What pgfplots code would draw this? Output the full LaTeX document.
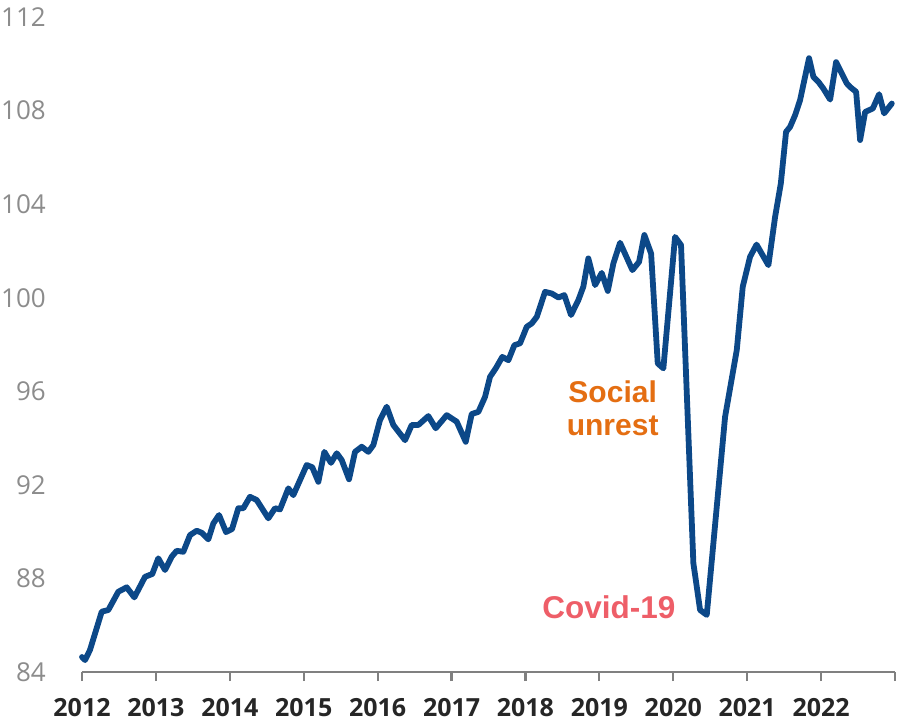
\documentclass[border=0pt]{standalone}
\usepackage{fontspec}
\setmainfont{Open Sans}
\newfontfamily\annfont{Liberation Sans}
\usepackage{pgfplots}
\pgfplotsset{compat=1.18}
\definecolor{lineblue}{RGB}{12,72,136}
\definecolor{ylab}{RGB}{140,140,140}
\definecolor{xlab}{RGB}{38,38,38}
\definecolor{axgray}{RGB}{128,128,128}
\definecolor{unrest}{RGB}{228,110,18}
\definecolor{covid}{RGB}{238,94,104}
\begin{document}
\begin{tikzpicture}
\useasboundingbox (-82pt,-51pt) rectangle (815pt,672pt);
\begin{axis}[
  at={(0pt,0pt)}, anchor=south west,
  scale only axis, width=813pt, height=655pt,
  xmin=2012, xmax=2023, ymin=84, ymax=112,
  clip=false,
  axis x line*=bottom, axis y line*=left,
  y axis line style={draw=none},
  x axis line style={axgray, line width=2.2pt},
  xtick={2012,2013,2014,2015,2016,2017,2018,2019,2020,2021,2022,2023},
  xticklabels={2012,2013,2014,2015,2016,2017,2018,2019,2020,2021,2022,{}},
  ytick={84,88,92,96,100,104,108,112},
  tick align=outside,
  x tick style={axgray, line width=2.2pt},
  y tick style={draw=none},
  major tick length=9pt,
  /pgf/number format/assume math mode=true,
  xticklabel style={font=\fontsize{25}{28}\selectfont\bfseries, text=xlab, anchor=center, inner sep=0pt, yshift=-27pt},
  yticklabel style={font=\fontsize{26}{30}\selectfont, text=ylab, anchor=east, inner sep=0pt, xshift=-27pt},
]
\addplot[lineblue, line width=5.8pt, line join=round, line cap=round] coordinates {
(2012.000,84.64) (2012.041,84.51) (2012.108,84.94) (2012.267,86.58) (2012.356,86.65)
(2012.491,87.43) (2012.605,87.62) (2012.708,87.19) (2012.853,88.07) (2012.951,88.19)
(2013.032,88.86) (2013.123,88.36) (2013.214,88.93) (2013.281,89.18) (2013.371,89.14)
(2013.461,89.85) (2013.552,90.04) (2013.620,89.95) (2013.709,89.67) (2013.777,90.35)
(2013.854,90.71) (2013.949,89.98) (2014.030,90.11) (2014.115,91.00) (2014.183,91.00)
(2014.273,91.49) (2014.364,91.35) (2014.521,90.57) (2014.612,91.00) (2014.679,90.95)
(2014.792,91.85) (2014.859,91.56) (2015.041,92.85) (2015.116,92.75) (2015.198,92.13)
(2015.279,93.41) (2015.369,92.94) (2015.447,93.35) (2015.514,93.06) (2015.613,92.24)
(2015.694,93.41) (2015.785,93.63) (2015.874,93.41) (2015.942,93.70) (2016.032,94.77)
(2016.123,95.34) (2016.212,94.56) (2016.371,93.91) (2016.461,94.56) (2016.551,94.56)
(2016.686,94.94) (2016.786,94.42) (2016.935,94.98) (2017.070,94.70) (2017.192,93.84)
(2017.273,95.03) (2017.363,95.12) (2017.453,95.76) (2017.521,96.62) (2017.598,96.98)
(2017.687,97.47) (2017.769,97.33) (2017.850,97.97) (2017.927,98.05) (2018.018,98.76)
(2018.085,98.90) (2018.153,99.18) (2018.265,100.25) (2018.356,100.18) (2018.445,100.01)
(2018.526,100.11) (2018.617,99.26) (2018.716,99.90) (2018.783,100.47) (2018.851,101.68)
(2018.942,100.54) (2019.032,101.06) (2019.114,100.29) (2019.190,101.47) (2019.280,102.35)
(2019.447,101.18) (2019.537,101.53) (2019.609,102.68) (2019.700,101.89) (2019.790,97.19)
(2019.866,96.98) (2020.024,102.60) (2020.105,102.25) (2020.272,88.65) (2020.363,86.65)
(2020.453,86.44) (2020.701,94.91) (2020.859,97.76) (2020.940,100.47) (2021.039,101.75)
(2021.127,102.27) (2021.287,101.39) (2021.378,103.46) (2021.455,104.88) (2021.526,107.09)
(2021.580,107.30) (2021.648,107.80) (2021.715,108.44) (2021.837,110.24) (2021.896,109.44)
(2021.963,109.23) (2022.031,108.94) (2022.122,108.47) (2022.203,110.07) (2022.348,109.16)
(2022.392,109.01) (2022.474,108.80) (2022.528,106.74) (2022.596,107.94) (2022.700,108.09)
(2022.785,108.70) (2022.853,107.88) (2022.957,108.30)
};
\node[font=\annfont\fontsize{30}{33}\selectfont\bfseries, text=unrest, align=center, inner sep=0pt] at (axis cs:2019.18,95.28) {Social\\unrest};
\node[font=\annfont\fontsize{31.5}{34}\selectfont\bfseries, text=covid, inner sep=0pt] at (axis cs:2019.13,86.78) {Covid-19};
\end{axis}
\end{tikzpicture}
\end{document}
